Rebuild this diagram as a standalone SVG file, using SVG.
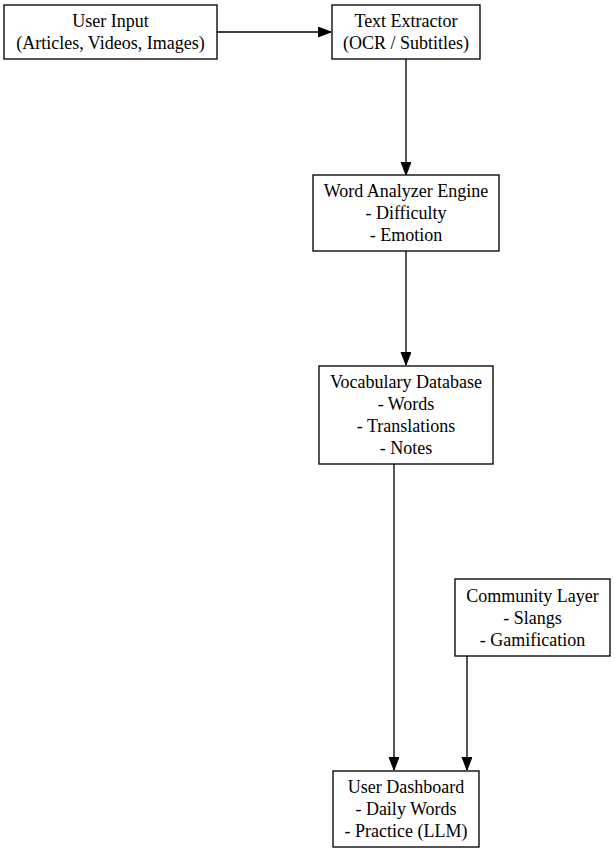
<svg xmlns="http://www.w3.org/2000/svg" width="616" height="853" viewBox="0 0 616 853">
<style>
.box{fill:#fff;stroke:#000;stroke-width:1.33}
text{font-family:"Liberation Serif","Times New Roman",serif;font-size:18px;fill:#000;text-anchor:middle}
.edge{fill:none;stroke:#000;stroke-width:1.33}
</style>
<defs>
<marker id="ah" markerUnits="userSpaceOnUse" markerWidth="14" markerHeight="12" refX="13" refY="5" orient="auto">
<path d="M0,0 L13,5 L0,10 Z" fill="#000" stroke="#000" stroke-width="1"/>
</marker>
</defs>
<rect width="616" height="853" fill="#fff"/>
<g id="connectors">
<line class="edge" x1="217" y1="32" x2="331" y2="32" marker-end="url(#ah)"/>
<line class="edge" x1="406" y1="59" x2="406" y2="175" marker-end="url(#ah)"/>
<line class="edge" x1="406" y1="251" x2="406" y2="365" marker-end="url(#ah)"/>
<line class="edge" x1="394" y1="464" x2="394" y2="770" marker-end="url(#ah)"/>
<line class="edge" x1="467" y1="656" x2="467" y2="770" marker-end="url(#ah)"/>
</g>
<g id="user_input">
<rect class="box" x="4" y="5" width="213" height="54"/>
<text x="110.5" y="27">User Input</text>
<text x="110.5" y="49">(Articles, Videos, Images)</text>
</g>
<g id="text_extractor">
<rect class="box" x="332" y="5" width="148" height="54"/>
<text x="406" y="27">Text Extractor</text>
<text x="406" y="49">(OCR / Subtitles)</text>
</g>
<g id="word_analyzer">
<rect class="box" x="313" y="175" width="186" height="76"/>
<text x="406" y="197">Word Analyzer Engine</text>
<text x="406" y="219">- Difficulty</text>
<text x="406" y="241">- Emotion</text>
</g>
<g id="vocabulary_db">
<rect class="box" x="319" y="366" width="174" height="98"/>
<text x="406" y="388">Vocabulary Database</text>
<text x="406" y="410">- Words</text>
<text x="406" y="432">- Translations</text>
<text x="406" y="454">- Notes</text>
</g>
<g id="community_layer">
<rect class="box" x="455" y="579" width="155" height="77"/>
<text x="532.5" y="602">Community Layer</text>
<text x="532.5" y="624">- Slangs</text>
<text x="532.5" y="646">- Gamification</text>
</g>
<g id="user_dashboard">
<rect class="box" x="333" y="771" width="146" height="76"/>
<text x="406" y="793">User Dashboard</text>
<text x="406" y="815">- Daily Words</text>
<text x="406" y="837">- Practice (LLM)</text>
</g>
</svg>
